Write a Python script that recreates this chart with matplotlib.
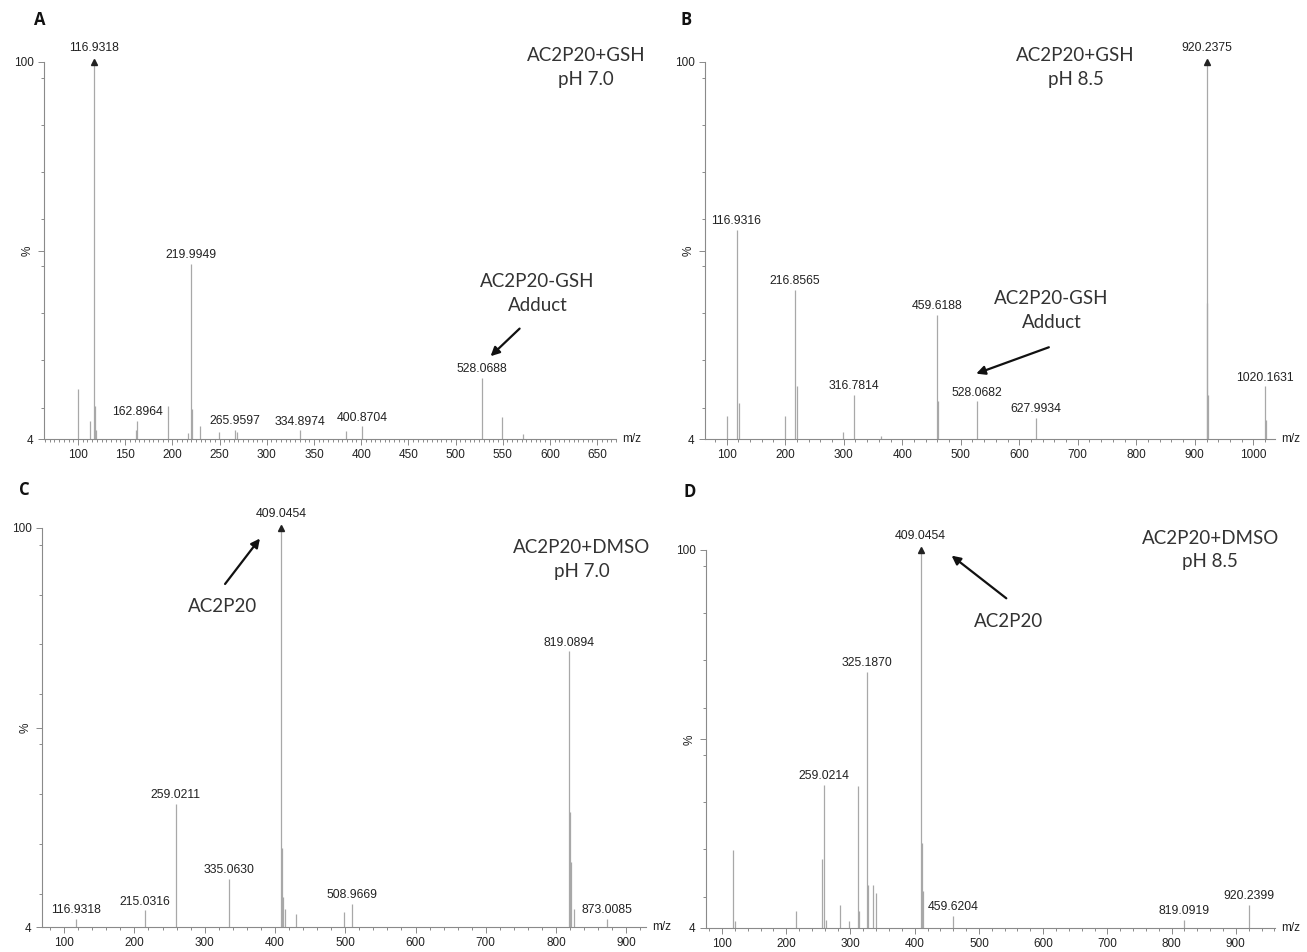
import matplotlib.pyplot as plt
from matplotlib.ticker import MultipleLocator
import numpy as np

# ---- spectra (m/z, relative intensity %) ----
a_mz = [100.0, 112.5, 116.9318, 118.0, 119.6, 161.0, 162.8964, 195.0, 216.7, 219.9949, 221.3,
        229.4, 249.4, 265.9597, 268.6, 334.8974, 384.0, 400.8704, 528.0688, 549.5, 571.8]
a_int = [16.7, 8.7, 100, 12.3, 6.4, 6.4, 8.7, 12.3, 5.5, 48.5, 11.6,
         7.4, 5.7, 6.4, 5.7, 6.2, 6.0, 7.2, 19.5, 9.6, 5.4]
a_lab = [116.9318, 162.8964, 219.9949, 265.9597, 334.8974, 400.8704, 528.0688]

b_mz = [100.0, 116.9316, 121.0, 200.4, 216.8565, 220.0, 298.0, 316.7814, 363.0, 459.6188, 461.0,
        528.0682, 627.9934, 920.2375, 921.2, 922.3, 1020.1631, 1021.5]
b_int = [9.9, 57.2, 13.2, 9.9, 42.0, 17.4, 5.7, 15.3, 4.8, 35.6, 13.6,
         13.6, 9.3, 100, 38.6, 15.3, 17.4, 8.9]
b_lab = [116.9316, 216.8565, 316.7814, 459.6188, 528.0682, 627.9934, 920.2375, 1020.1631]

c_mz = [116.9318, 215.0316, 259.0211, 335.0630, 409.0454, 410.5, 412.0, 414.5, 430.5, 497.6,
        508.9669, 819.0894, 820.3, 821.5, 825.0, 873.0085]
c_int = [6.0, 8.0, 33.7, 15.6, 100, 22.9, 11.2, 8.4, 7.2, 7.6,
         9.6, 70.3, 31.7, 19.6, 8.4, 6.0]
c_lab = [116.9318, 215.0316, 259.0211, 335.0630, 409.0454, 508.9669, 819.0894, 873.0085]

d_mz = [116.9, 120.0, 215.0, 255.3, 259.0214, 262.0, 283.4, 297.7, 311.4, 313.3, 325.1870,
        327.5, 335.5, 340.0, 409.0454, 410.8, 412.4, 459.6204, 819.0919, 920.2399]
d_int = [23.9, 5.7, 8.2, 21.6, 40.4, 6.0, 9.9, 5.7, 40.0, 8.2, 69.1,
         15.0, 15.0, 12.9, 100, 25.6, 13.3, 7.0, 6.1, 9.9]
d_lab = [259.0214, 325.1870, 409.0454, 459.6204, 819.0919, 920.2399]

W, H = 1307, 952
PEAK = '#a8a8a8'
AXC = '#8a8a8a'
TXT = '#333333'
ANN_FONT = 'Lato'


def rect(x1, y1, x2, y2):
    return [x1 / W, 1 - y2 / H, (x2 - x1) / W, (y2 - y1) / H]


def draw_panel(ax, mz, inten, labels, xlim, major, minor):
    ax.vlines(mz, 4, inten, color=PEAK, lw=0.9)
    top = int(np.argmax(inten))
    ax.plot(mz[top], inten[top], marker='^', color='#222222', ms=4, clip_on=False)
    for m in labels:
        i = mz.index(m)
        off = 6 if i == top else 2
        ax.annotate('%.4f' % m, (m, inten[i]), xytext=(0, off), textcoords='offset points',
                    ha='center', va='bottom', fontsize=8.8, color='#222222',
                    family='Liberation Sans', annotation_clip=False)
    ax.set_xlim(xlim)
    ax.set_ylim(4, 100)
    for s in ['top', 'right']:
        ax.spines[s].set_visible(False)
    for s in ['left', 'bottom']:
        ax.spines[s].set_color(AXC)
        ax.spines[s].set_linewidth(0.8)
    ax.xaxis.set_major_locator(MultipleLocator(major))
    ax.xaxis.set_minor_locator(MultipleLocator(minor))
    ax.set_xticks(np.arange(100, xlim[1], major))
    ax.set_yticks([4, 52, 100])
    ax.set_yticklabels(['4', '%', '100'])
    ax.get_yticklabels()[1].set_rotation(90)
    ax.yaxis.set_minor_locator(MultipleLocator(12))
    ax.tick_params(which='both', colors=AXC, labelcolor='#222222', labelsize=8.5, width=0.7)
    ax.tick_params(which='major', length=4)
    ax.tick_params(which='minor', length=2)
    for t in ax.get_xticklabels() + ax.get_yticklabels():
        t.set_family('Liberation Sans')
    ax.text(1.01, 0.0, 'm/z', transform=ax.transAxes, ha='left', va='center',
            fontsize=8.5, color='#222222', family='Liberation Sans')


fig = plt.figure(figsize=(W / 100, H / 100), dpi=100)
axA = fig.add_axes(rect(44, 62, 616, 439))
axB = fig.add_axes(rect(705, 62, 1275, 439))
axC = fig.add_axes(rect(42, 528, 646, 927))
axD = fig.add_axes(rect(706, 550, 1275, 928))

draw_panel(axA, a_mz, a_int, a_lab, (64, 670), 50, 5)
draw_panel(axB, b_mz, b_int, b_lab, (63, 1037), 100, 20)
draw_panel(axC, c_mz, c_int, c_lab, (68.5, 928), 100, 20)
draw_panel(axD, d_mz, d_int, d_lab, (75, 961), 100, 20)

ann = dict(ha='center', va='center', fontsize=13.5, color=TXT, family=ANN_FONT, linespacing=1.5)
arrow = dict(arrowstyle='-|>', color='#111111', lw=1.6, mutation_scale=13)

axA.text(638, 98.7, 'AC2P20+GSH\npH 7.0', clip_on=False, **ann)
axA.text(587, 41, 'AC2P20-GSH\nAdduct', clip_on=False, **ann)
axA.annotate('', xy=(535, 24.6), xytext=(570, 32.6), arrowprops=arrow)

axB.text(696, 98.5, 'AC2P20+GSH\npH 8.5', clip_on=False, **ann)
axB.text(655, 36.7, 'AC2P20-GSH\nAdduct', clip_on=False, **ann)
axB.annotate('', xy=(522, 20.4), xytext=(655, 27.6), arrowprops=arrow)

axC.text(837, 92.4, 'AC2P20+DMSO\npH 7.0', clip_on=False, **ann)
axC.text(325, 81, 'AC2P20', clip_on=False, **ann)
axC.annotate('', xy=(381, 98), xytext=(326.6, 86), arrowprops=arrow, annotation_clip=False)

axD.text(860, 100, 'AC2P20+DMSO\npH 8.5', clip_on=False, **ann)
axD.text(546, 81.8, 'AC2P20', clip_on=False, **ann)
axD.annotate('', xy=(454, 99), xytext=(546, 87.3), arrowprops=arrow, annotation_clip=False)

for lab, x, y in [('A', 40, 20), ('B', 686, 20), ('C', 24, 490), ('D', 690, 492)]:
    fig.text(x / W, 1 - y / H, lab, fontsize=12, fontweight='bold', family='Open Sans',
             ha='center', va='center', color='#111111')

fig.savefig('out.png', dpi=100)
